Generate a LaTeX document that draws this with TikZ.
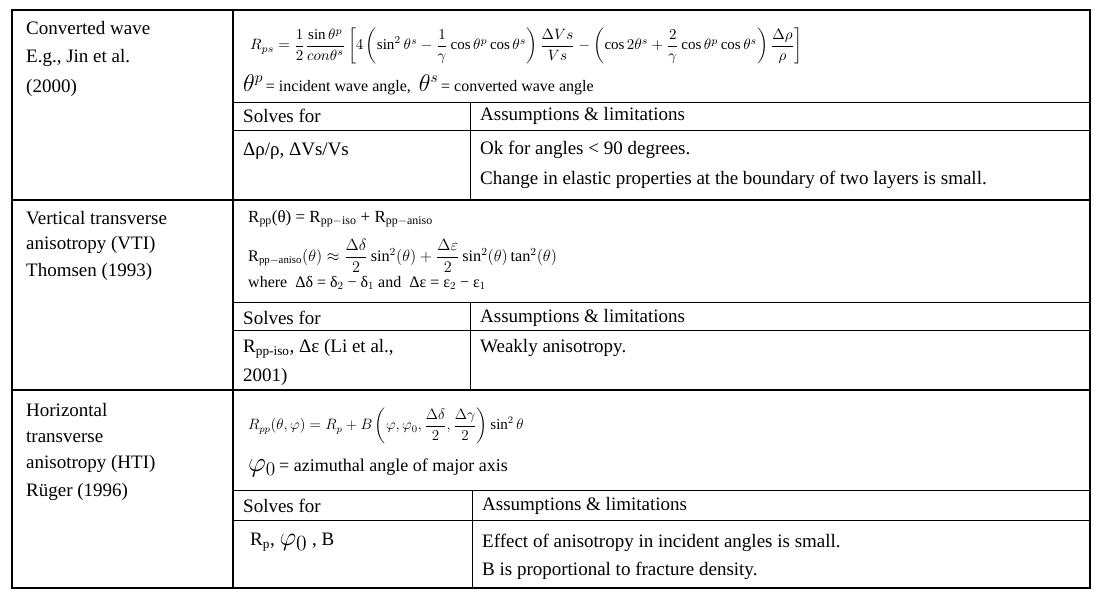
\documentclass[tikz,border=0pt]{standalone}
\usepackage{amsmath}
\usepackage{fontspec}
\setmainfont{Liberation Serif}
\begin{document}
\begin{tikzpicture}[x=1pt,y=-1pt,
 thick line/.style={line width=1.8pt},
 thin line/.style={line width=0.8pt},
 txt/.style={anchor=west,inner sep=0pt,font=\fontsize{19}{21}\selectfont},
 eq/.style={anchor=west,inner sep=0pt,font=\fontsize{12}{14}\selectfont}]
\useasboundingbox (0,0) rectangle (1100,600);
% grid
\draw[thick line] (12,10) rectangle (1090,588);
\draw[thick line] (12,200) -- (1090,200);
\draw[thick line] (12,390) -- (1090,390);
\draw[thick line] (233,10) -- (233,588);
\draw[thin line] (233,102) -- (1090,102) (233,130) -- (1090,130) (470,102) -- (470,200);
\draw[thin line] (233,302) -- (1090,302) (233,330) -- (1090,330) (470,302) -- (470,390);
\draw[thin line] (233,490) -- (1090,490) (233,520) -- (1090,520) (472,490) -- (472,588);
% left column
\node[txt] (a1) at (26,28) {Converted wave};
\node[txt] (a2) at (26,58) {E.g., Jin et al.};
\node[txt] (a3) at (26,88) {(2000)};
\node[txt] (b1) at (26,218) {Vertical transverse};
\node[txt] (b2) at (26,245) {anisotropy (VTI)};
\node[txt] (b3) at (26,272) {Thomsen (1993)};
\node[txt] (c1) at (26,410) {Horizontal};
\node[txt] (c2) at (26,437) {transverse};
\node[txt] (c3) at (26,464) {anisotropy (HTI)};
\node[txt] (c4) at (26,492) {Rüger (1996)};
% row 1
\node[eq,font=\fontsize{10}{12}\selectfont] (f1) at (250,46) {\scalebox{1.5}{$R_{ps}=\dfrac{1}{2}\dfrac{\sin\theta^{p}}{con\theta^{s}}\left[4\left(\sin^2\theta^{s}-\dfrac{1}{\gamma}\cos\theta^{p}\cos\theta^{s}\right)\dfrac{\Delta Vs}{Vs}-\left(\cos 2\theta^{s}+\dfrac{2}{\gamma}\cos\theta^{p}\cos\theta^{s}\right)\dfrac{\Delta\rho}{\rho}\right]$}};
\node[eq,font=\fontsize{16}{18}\selectfont] (f2) at (243,85) {\scalebox{1.4}{$\theta^{p}$}\,= incident wave angle,\ \ \scalebox{1.4}{$\theta^{s}$}\,= converted wave angle};
\node[txt] (s1) at (243,116) {Solves for};
\node[txt] (l1) at (480,116) {Assumptions \& limitations};
\node[txt] (s1b) at (243,151) {Δρ/ρ, ΔVs/Vs};
\node[txt] (l1b) at (480,150) {Ok for angles < 90 degrees.};
\node[txt] (l1c) at (480,180) {Change in elastic properties at the boundary of two layers is small.};
% row 2
\node[eq,font=\fontsize{17}{19}\selectfont] (g1) at (248,219) {R$_{\text{pp}}$(θ) = R$_{\text{pp}-\text{iso}}$ + R$_{\text{pp}-\text{aniso}}$};
\node[eq,font=\fontsize{12}{14}\selectfont] (g2) at (248,256) {\scalebox{1.35}{R$_{\text{pp}-\text{aniso}}$$(\theta)\approx\dfrac{\Delta\delta}{2}\sin^2(\theta)+\dfrac{\Delta\varepsilon}{2}\sin^2(\theta)\tan^2(\theta)$}};
\node[eq,font=\fontsize{16}{18}\selectfont] (g3) at (248,283) {where\ \ Δδ = δ$_2$ − δ$_1$ and\ \ Δε = ε$_2$ − ε$_1$};
\node[txt] (s2) at (243,318) {Solves for};
\node[txt] (l2) at (480,318) {Assumptions \& limitations};
\node[txt] (s2b) at (243,349) {R$_{\text{pp-iso}}$, Δε (Li et al.,};
\node[txt] (s2c) at (243,377) {2001)};
\node[txt] (l2b) at (480,348) {Weakly anisotropy.};
% row 3
\node[eq,font=\fontsize{12}{14}\selectfont] (h1) at (248,426) {\scalebox{1.25}{$R_{pp}(\theta,\varphi)=R_{p}+B\left(\varphi,\varphi_0,\dfrac{\Delta\delta}{2},\dfrac{\Delta\gamma}{2}\right)\sin^2\theta$}};
\node[eq,font=\fontsize{18}{20}\selectfont] (h2) at (248,468) {\scalebox{1.6}{$\varphi_0$}\,= azimuthal angle of major axis};
\node[txt] (s3) at (243,506) {Solves for};
\node[txt] (l3) at (482,506) {Assumptions \& limitations};
\node[txt] (s3b) at (250,542) {R$_{\text{p}}$, \scalebox{1.5}{$\varphi_0$} , B};
\node[txt] (l3b) at (482,543) {Effect of anisotropy in incident angles is small.};
\node[txt] (l3c) at (482,571) {B is proportional to fracture density.};
\end{tikzpicture}
\end{document}
